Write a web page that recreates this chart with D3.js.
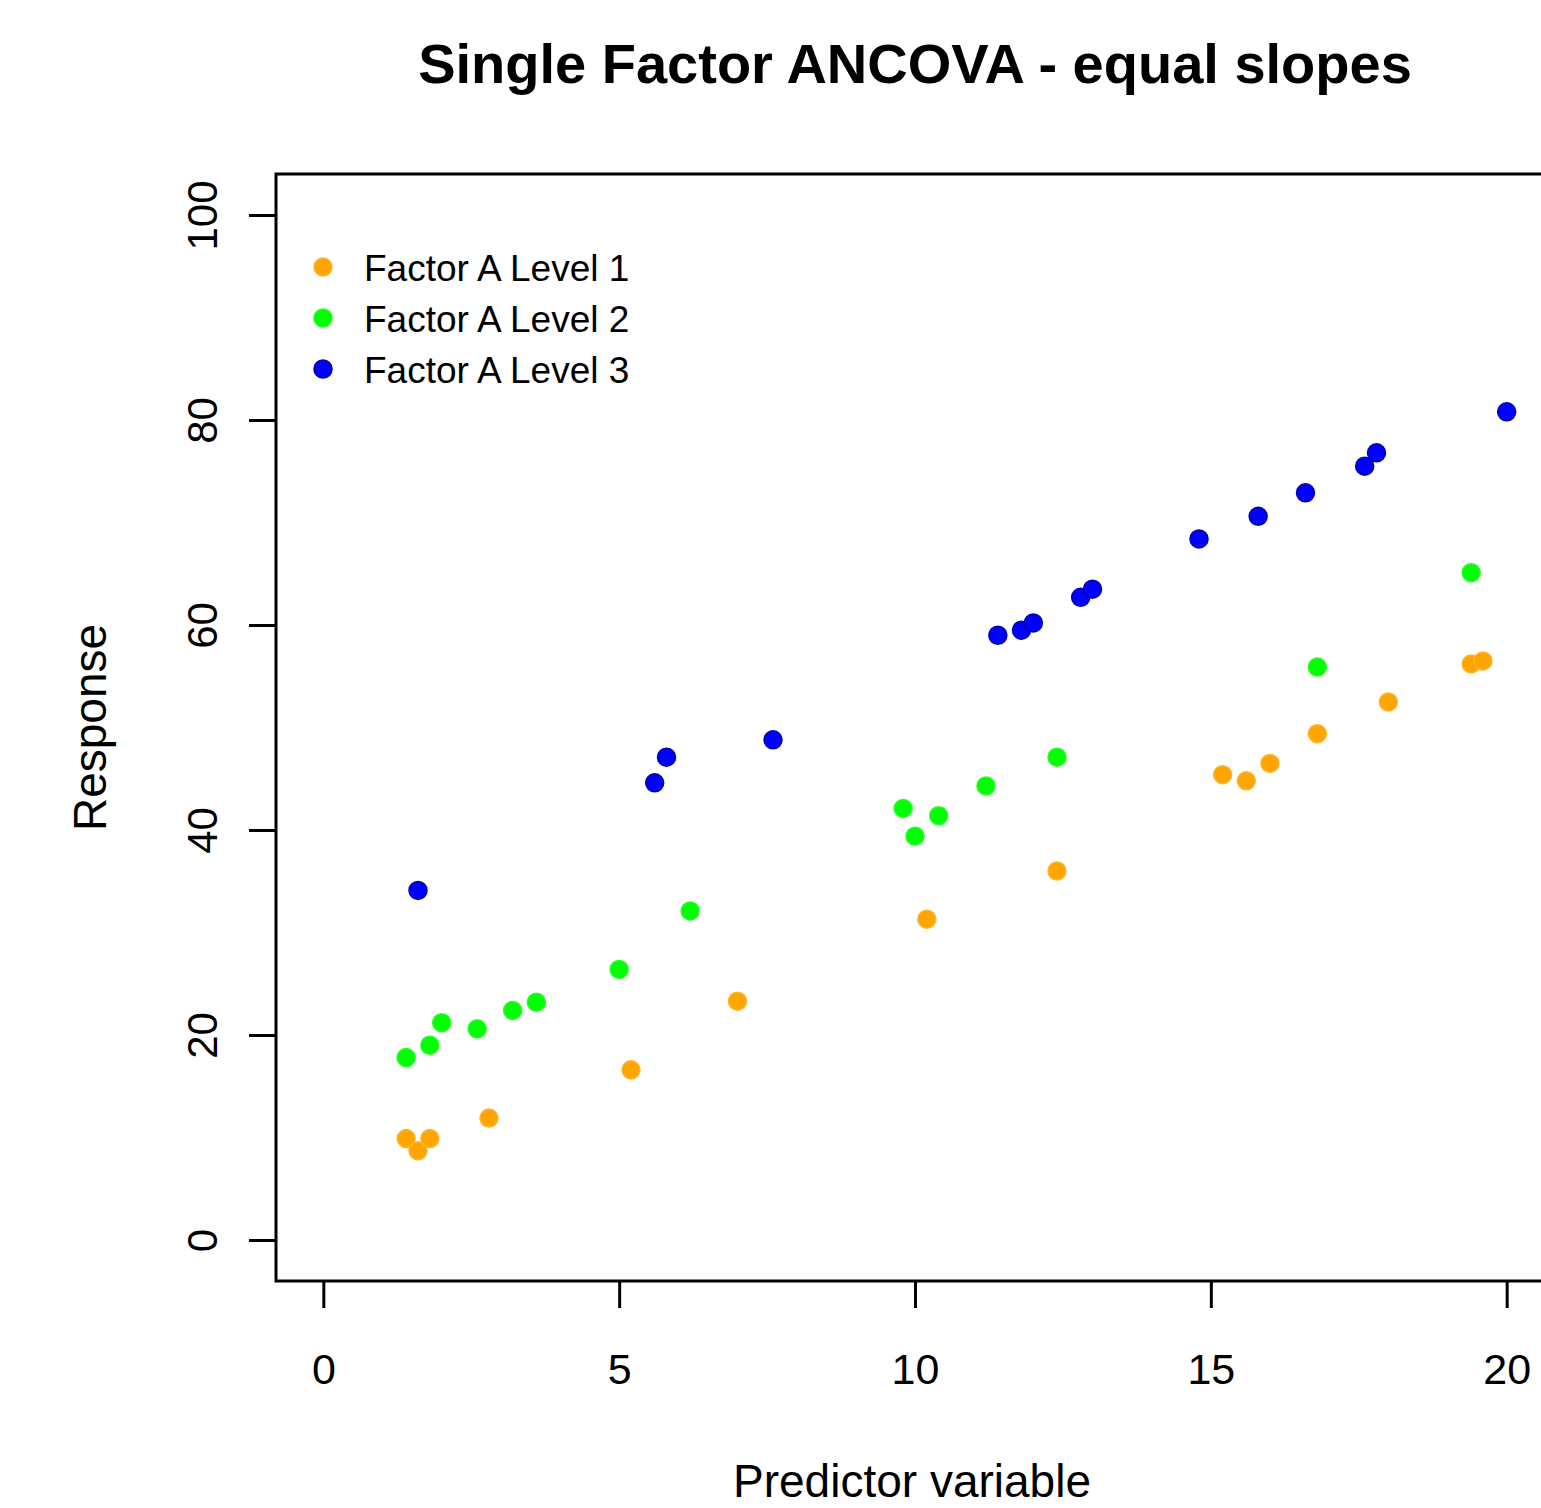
<!DOCTYPE html>
<html>
<head>
<meta charset="utf-8">
<script src="https://cdn.jsdelivr.net/npm/d3@7"></script>
<style>
  html, body { margin: 0; padding: 0; background: #fff; }
  svg { display: block; }
  text { font-family: "Liberation Sans", Arial, sans-serif; fill: #000; }
</style>
</head>
<body>
<script>
// ---- data ----
const level1X = [1.4, 1.6, 1.8, 2.8, 5.2, 7.0, 10.2, 12.4, 15.2, 15.6, 16.0, 16.8, 18.0, 19.4, 19.6];
const level1Y = [9.9, 8.7, 9.9, 11.9, 16.6, 23.3, 31.3, 36.0, 45.4, 44.8, 46.5, 49.4, 52.5, 56.2, 56.5];
const level2X = [1.4, 1.8, 2.0, 2.6, 3.2, 3.6, 5.0, 6.2, 9.8, 10.0, 10.4, 11.2, 12.4, 16.8, 19.4];
const level2Y = [17.8, 19.0, 21.2, 20.6, 22.4, 23.2, 26.4, 32.1, 42.1, 39.4, 41.4, 44.3, 47.1, 55.9, 65.1];
const level3X = [1.6, 5.6, 5.8, 7.6, 11.4, 11.8, 12.0, 12.8, 13.0, 14.8, 15.8, 16.6, 17.6, 17.8, 20.0];
const level3Y = [34.1, 44.6, 47.1, 48.8, 59.0, 59.5, 60.2, 62.7, 63.5, 68.4, 70.6, 72.9, 75.5, 76.8, 80.8];
const seriesNames = ["Factor A Level 1", "Factor A Level 2", "Factor A Level 3"];
const seriesColors = ["#FFA500", "#00FF00", "#0000FF"];
const seriesStrokes = ["#FFB52A", "#22FF22", "#0000B0"];
const xTicks = [0, 5, 10, 15, 20];
const yTicks = [0, 20, 40, 60, 80, 100];
const title = "Single Factor ANCOVA - equal slopes";
const xLabel = "Predictor variable";
const yLabel = "Response";

(function () {
const W = 1541, H = 1508;
const pL = 276, pT = 174, pR = 1554, pB = 1281;

const svg = d3.select("body").append("svg").attr("width", W).attr("height", H);

const x = d3.scaleLinear().domain([-0.8, 20.8]).range([pL, pR]);
const y = d3.scaleLinear().domain([-4, 104]).range([pB, pT]);

// title
svg.append("text").attr("x", (pL + pR) / 2).attr("y", 83)
  .attr("text-anchor", "middle").attr("font-size", 56).attr("font-weight", "bold")
  .text(title);

// x axis
const xAxis = svg.append("g").attr("transform", `translate(0,${pB})`)
  .call(d3.axisBottom(x).tickValues(xTicks).tickSize(27).tickPadding(45).tickFormat(d3.format("d")));
xAxis.select(".domain").remove();
xAxis.selectAll(".tick line").attr("stroke", "#000").attr("stroke-width", 3);
xAxis.selectAll(".tick text").attr("font-size", 43).attr("font-family", "Liberation Sans, Arial, sans-serif").attr("fill", "#000");

// y axis
const yAxis = svg.append("g").attr("transform", `translate(${pL},0)`)
  .call(d3.axisLeft(y).tickValues(yTicks).tickSize(27).tickFormat(d3.format("d")));
yAxis.select(".domain").remove();
yAxis.selectAll(".tick line").attr("stroke", "#000").attr("stroke-width", 3);
yAxis.selectAll(".tick text")
  .attr("font-size", 42).attr("font-family", "Liberation Sans, Arial, sans-serif").attr("fill", "#000")
  .attr("x", null).attr("dy", null)
  .attr("text-anchor", "middle")
  .attr("transform", `translate(${217 - pL},0) rotate(-90)`);

// frame
svg.append("rect").attr("x", pL).attr("y", pT)
  .attr("width", pR - pL).attr("height", pB - pT)
  .attr("fill", "none").attr("stroke", "#000").attr("stroke-width", 3);

// axis titles
svg.append("text").attr("x", (pL + pR) / 2 - 3).attr("y", 1497)
  .attr("text-anchor", "middle").attr("font-size", 46).text(xLabel);
svg.append("text").attr("transform", `translate(106,${(pT + pB) / 2}) rotate(-90)`)
  .attr("text-anchor", "middle").attr("font-size", 46).text(yLabel);

// points
const allX = [level1X, level2X, level3X];
const allY = [level1Y, level2Y, level3Y];
const plot = svg.append("g");
for (let s = 0; s < 3; s++) {
  plot.selectAll(null).data(allX[s].map((v, i) => [v, allY[s][i]])).enter()
    .append("circle")
    .attr("cx", d => x(d[0])).attr("cy", d => y(d[1])).attr("r", 9)
    .attr("fill", seriesColors[s]).attr("stroke", seriesStrokes[s]).attr("stroke-width", 1.5);
}

// legend
const legend = svg.append("g");
const legY = [267, 318, 369];
seriesNames.forEach((n, i) => {
  legend.append("circle").attr("cx", 323).attr("cy", legY[i]).attr("r", 9)
    .attr("fill", seriesColors[i]).attr("stroke", seriesStrokes[i]).attr("stroke-width", 1.5);
  legend.append("text").attr("x", 364).attr("y", legY[i] + 14)
    .attr("font-size", 37).text(n);
});
})();
</script>
</body>
</html>
